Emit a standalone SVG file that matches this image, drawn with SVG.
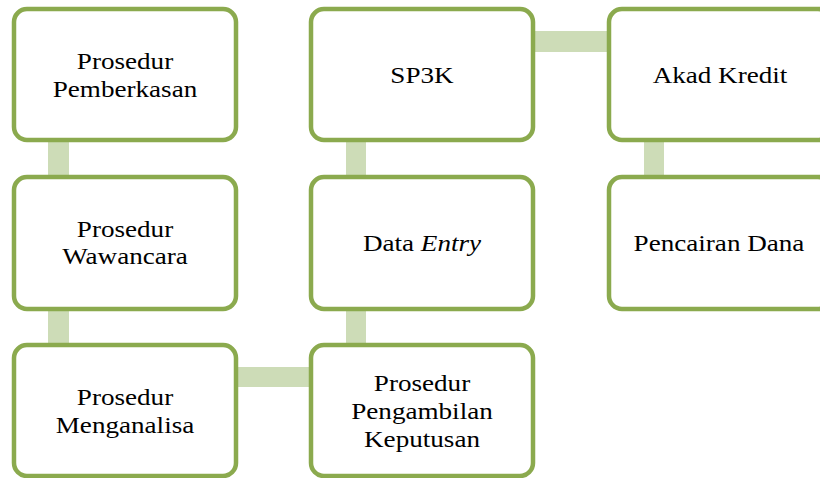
<svg xmlns="http://www.w3.org/2000/svg" width="820" height="478" viewBox="0 0 820 478">
<style>
.box{fill:#ffffff;stroke:#8BAA4E;stroke-width:4.5}
.con{fill:#CDDCB7}
</style>
<rect width="820" height="478" fill="#ffffff"/>
<g id="connectors">
<rect class="con" x="48" y="130" width="21" height="60"/>
<rect class="con" x="48" y="300" width="21" height="60"/>
<rect class="con" x="346" y="130" width="20" height="60"/>
<rect class="con" x="346" y="300" width="20" height="60"/>
<rect class="con" x="644" y="130" width="20" height="60"/>
<rect class="con" x="225" y="367" width="100" height="20"/>
<rect class="con" x="525" y="31" width="100" height="21"/>
</g>
<g id="n1"><rect class="box" x="14" y="9" width="222" height="131" rx="13"/>
<g transform="translate(125,0) scale(1.13,1)" font-family="Liberation Serif" font-size="24" text-anchor="middle">
<text x="0" y="69">Prosedur</text>
<text x="0" y="97">Pemberkasan</text></g></g>
<g id="n2"><rect class="box" x="14" y="177" width="222" height="132" rx="13"/>
<g transform="translate(125,0) scale(1.13,1)" font-family="Liberation Serif" font-size="24" text-anchor="middle">
<text x="0" y="237">Prosedur</text>
<text x="0" y="264">Wawancara</text></g></g>
<g id="n3"><rect class="box" x="14" y="345" width="222" height="131" rx="13"/>
<g transform="translate(125,0) scale(1.13,1)" font-family="Liberation Serif" font-size="24" text-anchor="middle">
<text x="0" y="405">Prosedur</text>
<text x="0" y="433">Menganalisa</text></g></g>
<g id="n4"><rect class="box" x="311" y="345" width="222" height="131" rx="13"/>
<g transform="translate(422,0) scale(1.13,1)" font-family="Liberation Serif" font-size="24" text-anchor="middle">
<text x="0" y="391">Prosedur</text>
<text x="0" y="419">Pengambilan</text>
<text x="0" y="447">Keputusan</text></g></g>
<g id="n5"><rect class="box" x="311" y="177" width="222" height="132" rx="13"/>
<g transform="translate(422,0) scale(1.13,1)" font-family="Liberation Serif" font-size="24" text-anchor="middle">
<text x="0" y="251">Data <tspan font-style="italic">Entry</tspan></text></g></g>
<g id="n6"><rect class="box" x="311" y="9" width="222" height="131" rx="13"/>
<g transform="translate(422,0) scale(1.13,1)" font-family="Liberation Serif" font-size="24" text-anchor="middle">
<text x="0" y="83">SP3K</text></g></g>
<g id="n7"><rect class="box" x="609" y="9" width="222" height="131" rx="13"/>
<g transform="translate(720,0) scale(1.13,1)" font-family="Liberation Serif" font-size="24" text-anchor="middle">
<text x="0" y="83">Akad Kredit</text></g></g>
<g id="n8"><rect class="box" x="609" y="177" width="222" height="132" rx="13"/>
<g transform="translate(719,0) scale(1.13,1)" font-family="Liberation Serif" font-size="24" text-anchor="middle">
<text x="0" y="251">Pencairan Dana</text></g></g>
</svg>
